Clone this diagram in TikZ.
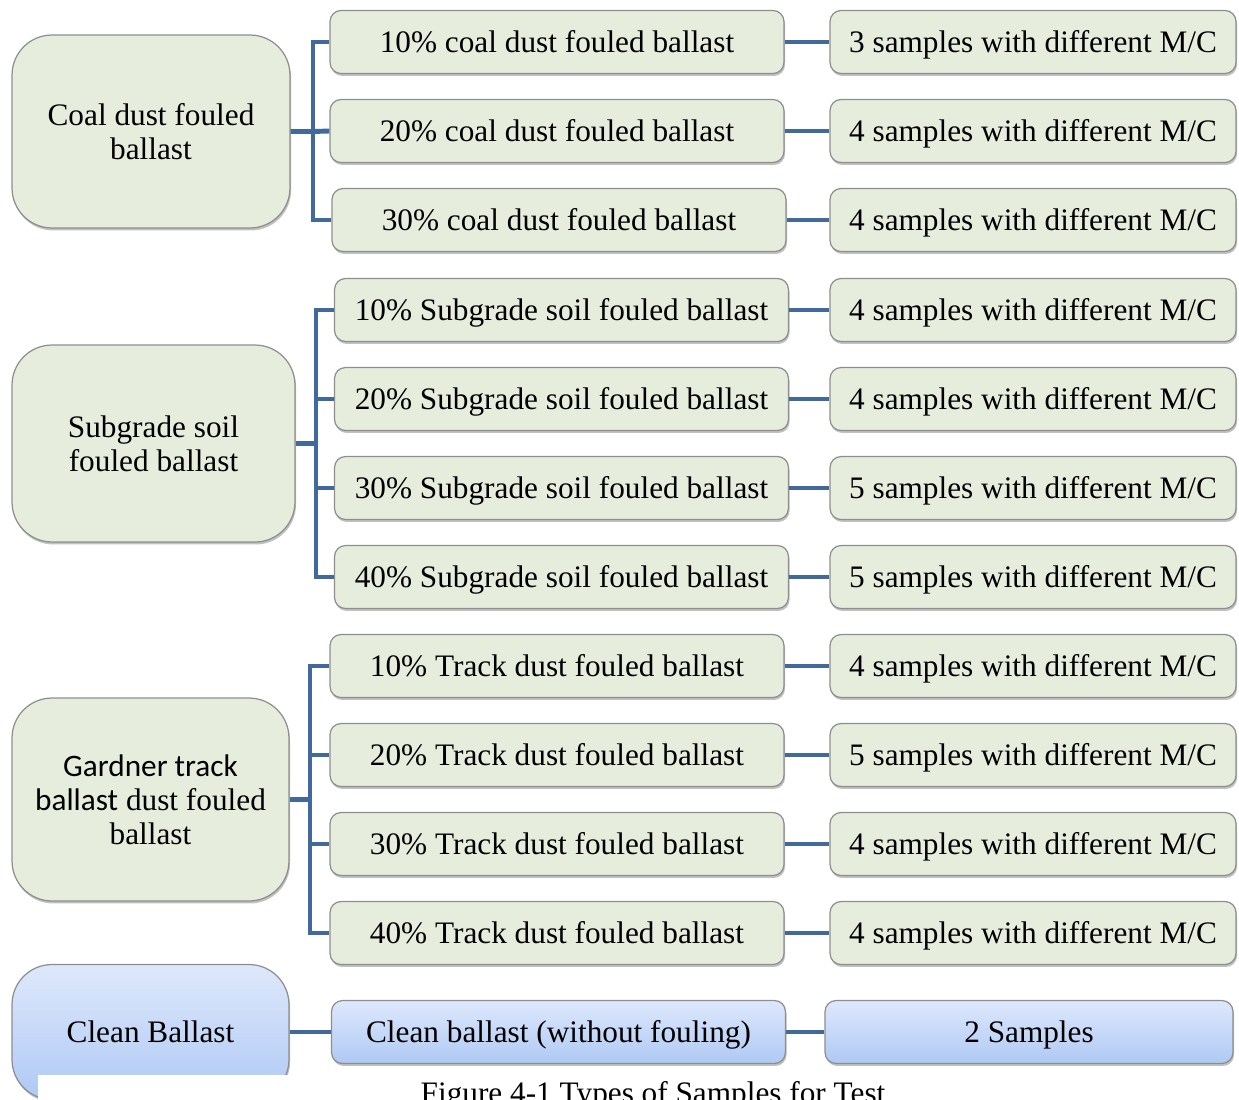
\documentclass[tikz,border=0pt]{standalone}
\usepackage{fontspec}
\setmainfont{Liberation Serif}
\newfontfamily\gardnerfont{Carlito}
\usetikzlibrary{shadows}
\definecolor{greenfill}{HTML}{E7EDDC}
\definecolor{boxborder}{HTML}{8E8E8E}
\definecolor{bluetop}{HTML}{DEE8FC}
\definecolor{bluebot}{HTML}{AFC9F4}
\definecolor{connblue}{HTML}{41699C}
\begin{document}
\begin{tikzpicture}[x=0.02cm,y=-0.02cm,
  every node/.style={font=\fontsize{17.8}{19.3}\selectfont, align=center, inner sep=0pt},
  shadowed/.style={drop shadow={shadow xshift=0.6pt, shadow yshift=-1.4pt, opacity=0.35, fill=black!70}},
  bigbox/.style={draw=boxborder, line width=0.7pt, fill=greenfill, rounded corners=0.8cm, shadowed},
  smallbox/.style={draw=boxborder, line width=0.7pt, fill=greenfill, rounded corners=0.22cm, shadowed, minimum height=1.26cm, text height=11.8pt, text depth=0pt},
  midbox/.style={smallbox, minimum width=9.08cm},
  rightbox/.style={smallbox, minimum width=8.12cm},
  bluefill/.style={draw=boxborder, top color=bluetop, bottom color=bluebot},
  conn/.style={draw=connblue, line width=2.8pt}]
\useasboundingbox (0,0) rectangle (1239,1099);

% left group boxes
\node[bigbox, minimum width=5.56cm, minimum height=3.86cm] (coal) at (151,131.5) {Coal dust fouled\\ballast};
\node[bigbox, minimum width=5.66cm, minimum height=3.94cm] (sub) at (153.5,443.5) {Subgrade soil\\fouled ballast};
\node[bigbox, minimum width=5.54cm, minimum height=4.06cm] (track) at (150.5,799.5) {{\gardnerfont Gardner track}\\{\gardnerfont ballast} dust fouled\\ballast};
\node[bigbox, bluefill, minimum width=5.54cm, minimum height=2.7cm] (clean) at (150.5,1032) {Clean Ballast};

% middle column
\node[midbox] (m1) at (557,42) {10\% coal dust fouled ballast};
\node[midbox] (m2) at (557,131) {20\% coal dust fouled ballast};
\node[midbox] (m3) at (559,220) {30\% coal dust fouled ballast};
\node[midbox] (s1) at (561.5,310) {10\% Subgrade soil fouled ballast};
\node[midbox] (s2) at (561.5,399) {20\% Subgrade soil fouled ballast};
\node[midbox] (s3) at (561.5,488) {30\% Subgrade soil fouled ballast};
\node[midbox] (s4) at (561.5,577) {40\% Subgrade soil fouled ballast};
\node[midbox] (t1) at (557,666) {10\% Track dust fouled ballast};
\node[midbox] (t2) at (557,755) {20\% Track dust fouled ballast};
\node[midbox] (t3) at (557,844) {30\% Track dust fouled ballast};
\node[midbox] (t4) at (557,933) {40\% Track dust fouled ballast};
\node[midbox, bluefill] (cm) at (558.5,1032) {Clean ballast (without fouling)};

% right column
\node[rightbox] (rm1) at (1033,42) {3 samples with different M/C};
\node[rightbox] (rm2) at (1033,131) {4 samples with different M/C};
\node[rightbox] (rm3) at (1033,220) {4 samples with different M/C};
\node[rightbox] (rs1) at (1033,310) {4 samples with different M/C};
\node[rightbox] (rs2) at (1033,399) {4 samples with different M/C};
\node[rightbox] (rs3) at (1033,488) {5 samples with different M/C};
\node[rightbox] (rs4) at (1033,577) {5 samples with different M/C};
\node[rightbox] (rt1) at (1033,666) {4 samples with different M/C};
\node[rightbox] (rt2) at (1033,755) {5 samples with different M/C};
\node[rightbox] (rt3) at (1033,844) {4 samples with different M/C};
\node[rightbox] (rt4) at (1033,933) {4 samples with different M/C};
\node[rightbox, bluefill, minimum width=8.16cm] (rc) at (1029,1032) {2 Samples};

% junction coordinates
\coordinate (cj) at (313,131.5);
\coordinate (sj) at (316,443.5);
\coordinate (tj) at (310,799.5);

% tree connectors
\draw[conn] (m1.west) -| (cj) |- (m3.west);
\draw[conn] (coal.east) -- (cj) -- (m2.west);
\draw[conn] (s1.west) -| (sj) |- (s4.west);
\draw[conn] (sub.east) -- (sj);
\draw[conn] (s2.west) -- (s2.west -| sj);
\draw[conn] (s3.west) -- (s3.west -| sj);
\draw[conn] (t1.west) -| (tj) |- (t4.west);
\draw[conn] (track.east) -- (tj);
\draw[conn] (t2.west) -- (t2.west -| tj);
\draw[conn] (t3.west) -- (t3.west -| tj);
\draw[conn] (clean.east) -- (cm.west);

% middle to right
\foreach \a/\b in {m1/rm1,m2/rm2,m3/rm3,s1/rs1,s2/rs2,s3/rs3,s4/rs4,t1/rt1,t2/rt2,t3/rt3,t4/rt4,cm/rc}
  \draw[conn] (\a.east) -- (\b.west);

% caption strip
\fill[white] (38,1075) rectangle (1239,1110);
\node[anchor=base] (cap) at (653,1103) {Figure 4-1 Types of Samples for Test};
\end{tikzpicture}
\end{document}
